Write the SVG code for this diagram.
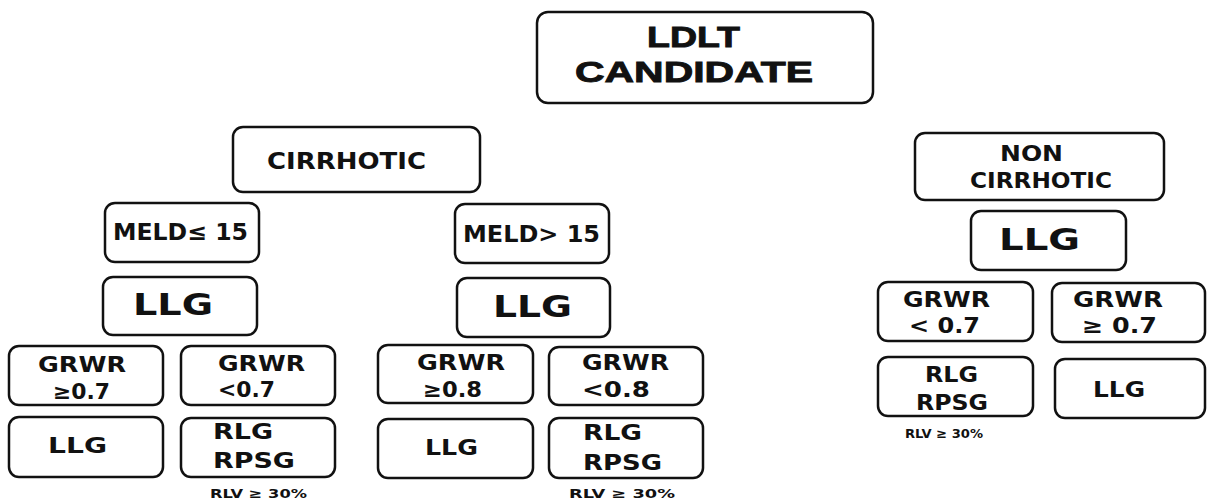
<svg xmlns="http://www.w3.org/2000/svg" width="1207" height="502" viewBox="0 0 1207 502">
<style>
.b{fill:#fff;stroke:#111;stroke-width:2.5}
text{fill:#111;font-family:"DejaVu Sans","Liberation Sans",sans-serif;font-weight:bold}
.t{font-family:"Liberation Sans",Arial,sans-serif;font-size:30px;stroke:#111;stroke-width:0.9}
.m{font-size:23px}
.g{font-size:30px}
.s{font-size:21px}
.r{font-size:13px}
</style>
<rect width="1207" height="502" fill="#fff"/>
<g id="connectors"></g>
<g id="ldlt"><rect class="b" x="537" y="12" width="336" height="91" rx="11"/>
<text class="t" x="647" y="47" textLength="93" lengthAdjust="spacingAndGlyphs">LDLT</text>
<text class="t" x="575" y="82" textLength="238" lengthAdjust="spacingAndGlyphs">CANDIDATE</text></g>
<g id="cirrhotic"><rect class="b" x="233" y="127" width="247" height="65" rx="10"/>
<text class="m" x="267" y="169" textLength="159" lengthAdjust="spacingAndGlyphs">CIRRHOTIC</text></g>
<g id="meld-le15"><rect class="b" x="105" y="203" width="154" height="59" rx="10"/>
<text class="m" x="113" y="240" textLength="135" lengthAdjust="spacingAndGlyphs">MELD≤ 15</text></g>
<g id="llg-a"><rect class="b" x="103" y="277" width="154" height="58" rx="10"/>
<text class="g" x="133" y="315" textLength="80" lengthAdjust="spacingAndGlyphs">LLG</text></g>
<g id="grwr-a1"><rect class="b" x="9" y="346" width="154" height="59" rx="10"/>
<text class="s" x="38" y="372" textLength="88" lengthAdjust="spacingAndGlyphs">GRWR</text>
<text class="s" x="53" y="399" textLength="57" lengthAdjust="spacingAndGlyphs">≥0.7</text></g>
<g id="grwr-a2"><rect class="b" x="181" y="346" width="154" height="59" rx="10"/>
<text class="s" x="218" y="371" textLength="87" lengthAdjust="spacingAndGlyphs">GRWR</text>
<text class="s" x="218" y="397" textLength="57" lengthAdjust="spacingAndGlyphs">&lt;0.7</text></g>
<g id="llg-a1"><rect class="b" x="9" y="417" width="154" height="60" rx="10"/>
<text class="s" x="48" y="453" textLength="59" lengthAdjust="spacingAndGlyphs">LLG</text></g>
<g id="rlg-a2"><rect class="b" x="181" y="418" width="154" height="59" rx="10"/>
<text class="s" x="213" y="439" textLength="60" lengthAdjust="spacingAndGlyphs">RLG</text>
<text class="s" x="213" y="468" textLength="82" lengthAdjust="spacingAndGlyphs">RPSG</text>
<text class="r" x="210" y="498" textLength="97" lengthAdjust="spacingAndGlyphs">RLV ≥ 30%</text></g>
<g id="meld-gt15"><rect class="b" x="455" y="204" width="154" height="59" rx="10"/>
<text class="m" x="463" y="242" textLength="137" lengthAdjust="spacingAndGlyphs">MELD&gt; 15</text></g>
<g id="llg-b"><rect class="b" x="457" y="278" width="153" height="59" rx="10"/>
<text class="g" x="493" y="317" textLength="79" lengthAdjust="spacingAndGlyphs">LLG</text></g>
<g id="grwr-b1"><rect class="b" x="378" y="345" width="155" height="58" rx="10"/>
<text class="s" x="417" y="370" textLength="88" lengthAdjust="spacingAndGlyphs">GRWR</text>
<text class="s" x="423" y="397" textLength="59" lengthAdjust="spacingAndGlyphs">≥0.8</text></g>
<g id="grwr-b2"><rect class="b" x="549" y="347" width="154" height="58" rx="10"/>
<text class="s" x="582" y="370" textLength="87" lengthAdjust="spacingAndGlyphs">GRWR</text>
<text class="s" x="582" y="397" textLength="68" lengthAdjust="spacingAndGlyphs">&lt;0.8</text></g>
<g id="llg-b1"><rect class="b" x="378" y="419" width="155" height="59" rx="10"/>
<text class="s" x="425" y="455" textLength="53" lengthAdjust="spacingAndGlyphs">LLG</text></g>
<g id="rlg-b2"><rect class="b" x="549" y="418" width="154" height="60" rx="10"/>
<text class="s" x="583" y="440" textLength="59" lengthAdjust="spacingAndGlyphs">RLG</text>
<text class="s" x="583" y="470" textLength="79" lengthAdjust="spacingAndGlyphs">RPSG</text>
<text class="r" x="569" y="498" textLength="106" lengthAdjust="spacingAndGlyphs">RLV ≥ 30%</text></g>
<g id="noncirrhotic"><rect class="b" x="915" y="133" width="249" height="67" rx="10"/>
<text class="s" x="1000" y="161" textLength="63" lengthAdjust="spacingAndGlyphs">NON</text>
<text class="s" x="970" y="188" textLength="142" lengthAdjust="spacingAndGlyphs">CIRRHOTIC</text></g>
<g id="llg-c"><rect class="b" x="971" y="211" width="155" height="59" rx="10"/>
<text class="g" x="999" y="250" textLength="81" lengthAdjust="spacingAndGlyphs">LLG</text></g>
<g id="grwr-c1"><rect class="b" x="878" y="282" width="155" height="59" rx="10"/>
<text class="s" x="903" y="307" textLength="87" lengthAdjust="spacingAndGlyphs">GRWR</text>
<text class="s" x="909" y="333" textLength="71" lengthAdjust="spacingAndGlyphs">&lt; 0.7</text></g>
<g id="grwr-c2"><rect class="b" x="1052" y="283" width="153" height="59" rx="10"/>
<text class="s" x="1073" y="307" textLength="90" lengthAdjust="spacingAndGlyphs">GRWR</text>
<text class="s" x="1082" y="333" textLength="75" lengthAdjust="spacingAndGlyphs">≥ 0.7</text></g>
<g id="rlg-c1"><rect class="b" x="878" y="357" width="155" height="59" rx="10"/>
<text class="s" x="925" y="382" textLength="53" lengthAdjust="spacingAndGlyphs">RLG</text>
<text class="s" x="916" y="410" textLength="72" lengthAdjust="spacingAndGlyphs">RPSG</text>
<text class="r" x="905" y="438" textLength="78" lengthAdjust="spacingAndGlyphs">RLV ≥ 30%</text></g>
<g id="llg-c2"><rect class="b" x="1055" y="359" width="150" height="59" rx="10"/>
<text class="s" x="1093" y="397" textLength="52" lengthAdjust="spacingAndGlyphs">LLG</text></g>
</svg>
